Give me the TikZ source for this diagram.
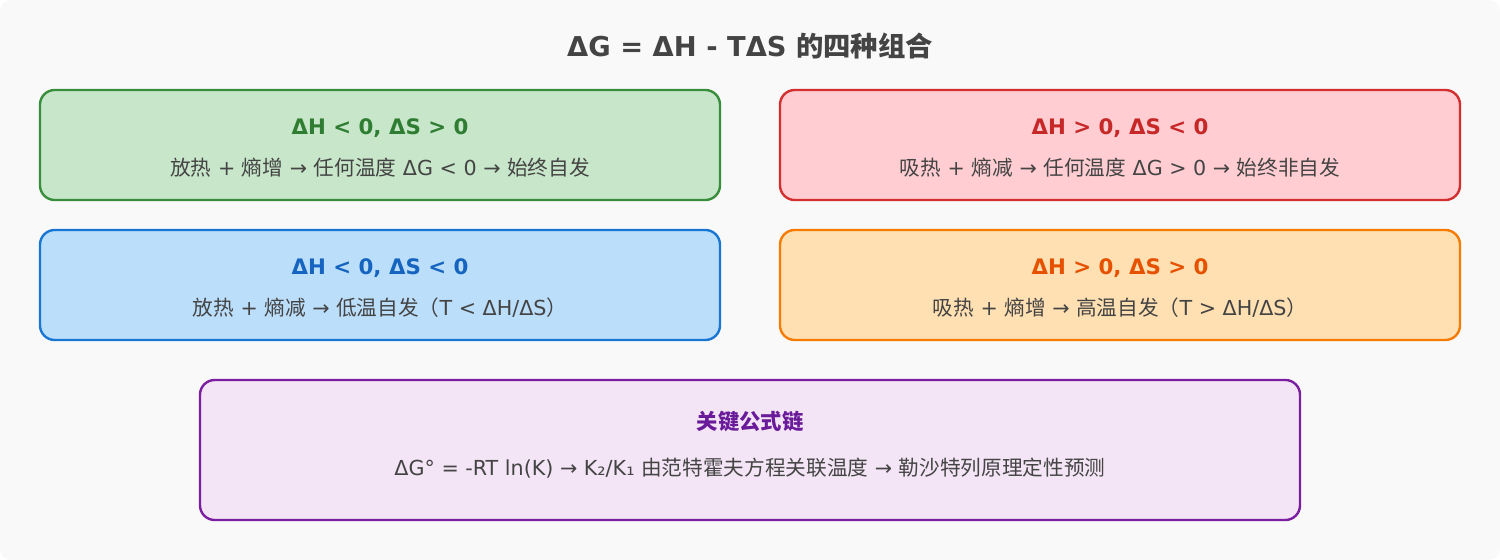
\documentclass[tikz,border=0pt]{standalone}
\usepackage{fontspec}
\setmainfont{DejaVu Sans}
\newfontfamily\cjk{Noto Sans CJK SC}
\newcommand{\zh}[1]{{\cjk #1}}
\definecolor{bgc}{HTML}{F9F9F9}
\definecolor{txt}{HTML}{444444}
\definecolor{gfill}{HTML}{C8E6C9}\definecolor{gline}{HTML}{388E3C}\definecolor{gtext}{HTML}{2E7D32}
\definecolor{rfill}{HTML}{FFCDD2}\definecolor{rline}{HTML}{D32F2F}\definecolor{rtext}{HTML}{C62828}
\definecolor{bfill}{HTML}{BBDEFB}\definecolor{bline}{HTML}{1976D2}\definecolor{btext}{HTML}{1565C0}
\definecolor{ofill}{HTML}{FFE0B2}\definecolor{oline}{HTML}{F57C00}\definecolor{otext}{HTML}{E65100}
\definecolor{pfill}{HTML}{F3E5F5}\definecolor{pline}{HTML}{7B1FA2}\definecolor{ptext}{HTML}{6A1B9A}
\tikzset{every picture/.style={line width=0.75pt},
  card/.style={draw, line width=1.8pt, rounded corners=11pt},
  head/.style={font=\fontsize{16}{18}\selectfont\bfseries},
  body/.style={text=txt, font=\fontsize{15.5}{18}\selectfont}}

\begin{document}
\begin{tikzpicture}[x=0.75pt,y=0.75pt,yscale=-1,xscale=1]
%background
\fill [bgc, rounded corners=8pt] (0,0) rectangle (1500,560);
\useasboundingbox (0,0) rectangle (1500,560);

\node (title) [text=txt, font=\fontsize{20.5}{24}\selectfont\bfseries] at (750,46) {ΔG = ΔH - TΔS \zh{的四种组合}};

%Shape: Rectangle
\draw [card, fill=gfill, draw=gline] (40,90) rectangle (720,200);
\node (gh) [head, text=gtext] at (380,128) {ΔH < 0, ΔS > 0};
\node (gb) [body] at (380,168) {\zh{放热} + \zh{熵增} → \zh{任何温度} ΔG < 0 → \zh{始终自发}};

%Shape: Rectangle
\draw [card, fill=rfill, draw=rline] (780,90) rectangle (1460,200);
\node (rh) [head, text=rtext] at (1120,128) {ΔH > 0, ΔS < 0};
\node (rb) [body] at (1120,168) {\zh{吸热} + \zh{熵减} → \zh{任何温度} ΔG > 0 → \zh{始终非自发}};

%Shape: Rectangle
\draw [card, fill=bfill, draw=bline] (40,230) rectangle (720,340);
\node (bh) [head, text=btext] at (380,268) {ΔH < 0, ΔS < 0};
\node (bb) [body] at (380,308) {\zh{放热} + \zh{熵减} → \zh{低温自发（}T < ΔH/ΔS\zh{）}};

%Shape: Rectangle
\draw [card, fill=ofill, draw=oline] (780,230) rectangle (1460,340);
\node (oh) [head, text=otext] at (1120,268) {ΔH > 0, ΔS > 0};
\node (ob) [body] at (1120,308) {\zh{吸热} + \zh{熵增} → \zh{高温自发（}T > ΔH/ΔS\zh{）}};

%Shape: Rectangle
\draw [card, fill=pfill, draw=pline] (200,380) rectangle (1300,520);
\node (ph) [head, text=ptext] at (750,421) {\zh{关键公式链}};
\node (pb) [body] at (750,468) {ΔG° = -RT ln(K) → K₂/K₁ \zh{由范特霍夫方程关联温度} → \zh{勒沙特列原理定性预测}};
\end{tikzpicture}
\end{document}
